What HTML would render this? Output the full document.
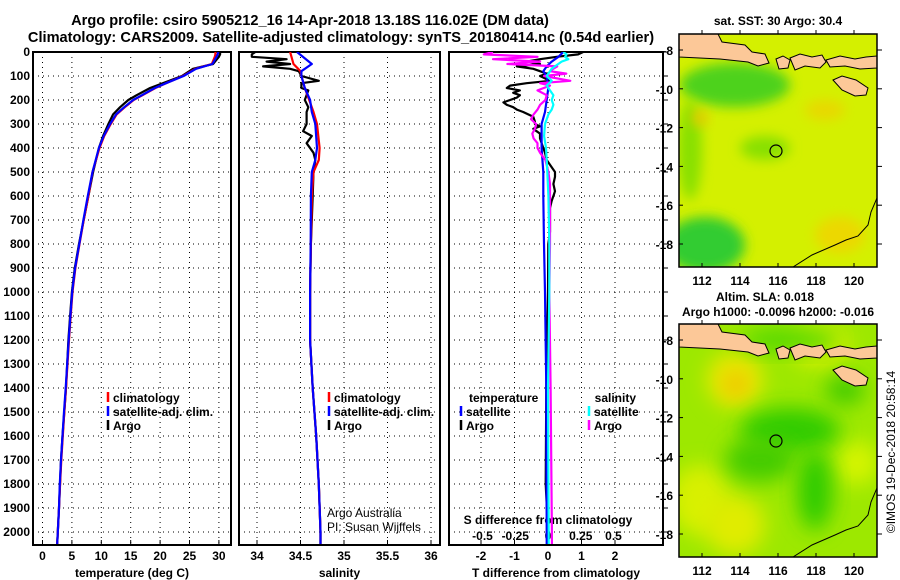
<!DOCTYPE html>
<html><head><meta charset="utf-8"><style>
body{margin:0;background:#fff;}
svg{display:block;font-family:"Liberation Sans",sans-serif;}
.b{font-weight:bold;font-size:12px;}
.n{font-weight:normal;font-size:12px;}
.t{font-weight:bold;font-size:14.6px;}
</style></head><body>
<svg id="c" width="900" height="580" viewBox="0 0 900 580">
<defs>
<clipPath id="cp1"><rect x="33" y="52" width="198" height="493"/></clipPath>
<clipPath id="cp2"><rect x="239" y="52" width="201" height="493"/></clipPath>
<clipPath id="cp3"><rect x="449" y="52" width="214" height="493"/></clipPath>
<clipPath id="cm1"><rect x="679" y="34" width="198" height="233"/></clipPath>
<clipPath id="cm2"><rect x="679" y="324" width="198" height="233"/></clipPath>
<filter id="bl" x="-50%" y="-50%" width="200%" height="200%"><feGaussianBlur stdDeviation="10"/></filter>
<filter id="bl2" x="-50%" y="-50%" width="200%" height="200%"><feGaussianBlur stdDeviation="6"/></filter>
</defs>
<text x="310" y="25" text-anchor="middle" class="t">Argo profile: csiro 5905212_16 14-Apr-2018 13.18S 116.02E (DM data)</text>
<text x="341" y="42" text-anchor="middle" class="t">Climatology: CARS2009. Satellite-adjusted climatology: synTS_20180414.nc (0.54d earlier)</text>
<g id="axes"></g>
<g id="maps"></g>
</svg>
<script>
// ---- data ----
const tDepth = [0,10,20,50,70,100,130,150,180,200,230,260,300,350,400,500,600,700,800,900,1000,1100,1200,1400,1500,1600,1700,1800,1900,2000,2050];
const tArgo = [30.2,30.2,30.0,29.0,25.6,23.7,20.5,18.3,16.0,14.6,13.2,12.0,11.2,10.3,9.6,8.6,7.8,7.0,6.2,5.5,5.0,4.7,4.4,4.0,3.7,3.4,3.15,2.97,2.8,2.6,2.5];
const tClim = [29.4,29.4,29.3,28.8,26.0,23.9,21.0,19.2,17.0,15.5,14.0,12.6,11.6,10.5,9.7,8.5,7.8,7.0,6.3,5.6,5.1,4.8,4.5,4.0,3.7,3.45,3.2,3.0,2.8,2.6,2.5];
const tSat = [29.9,29.8,29.6,28.9,26.1,24.0,21.0,19.1,16.9,15.4,13.9,12.5,11.5,10.4,9.6,8.5,7.7,6.95,6.25,5.55,5.05,4.75,4.45,3.95,3.65,3.4,3.15,2.95,2.8,2.6,2.5];
const sDepth = [0,50,80,100,150,200,250,300,400,450,500,600,800,1000,1200,1400,1600,1800,2000,2050];
const sClim = [34.38,34.42,34.5,34.51,34.55,34.6,34.65,34.69,34.72,34.71,34.65,34.63,34.62,34.61,34.61,34.64,34.68,34.71,34.73,34.73];
const sSat = [34.46,34.63,34.51,34.51,34.55,34.61,34.63,34.67,34.69,34.67,34.63,34.62,34.617,34.61,34.61,34.64,34.68,34.71,34.73,34.73];
const sArgoDepth = [0,10,20,30,40,50,60,70,80,100,120,130,150,160,200,230,250,300,330,350,380,420,450,500,600,800,1000,1200,1400,1600,1800,2000,2050];
const sArgo = [33.98,33.94,33.94,34.34,34.11,34.38,34.07,34.38,34.48,34.51,34.71,34.51,34.51,34.59,34.55,34.59,34.57,34.57,34.53,34.63,34.57,34.65,34.67,34.65,34.64,34.62,34.61,34.61,34.64,34.68,34.71,34.73,34.73];
const dTArgoDepth = [0,10,20,30,40,50,60,70,80,90,100,120,130,140,150,160,170,180,190,200,210,220,230,240,250,270,290,300,310,320,330,340,360,380,400,420,450,480,500,520,550,580,600,620,650,700,750,800,1000,1400,1800,2000,2050];
const dTArgo = [1.05,0.9,0.26,-0.24,-0.64,-0.24,-0.93,-0.44,-0.24,-0.04,-0.24,0.06,-0.64,-1.13,-1.23,-0.84,-1.04,-0.84,-0.93,-1.13,-1.33,-1.23,-1.04,-0.93,-0.74,-0.44,-0.39,-0.39,-0.24,-0.44,-0.34,-0.24,-0.24,-0.19,-0.14,-0.09,-0.04,0.11,0.21,0.21,0.16,0.21,0.16,0.11,0.06,0.06,0.06,0.01,0,-0.05,-0.07,0,0];
const dTSatDepth = [0,20,40,60,80,100,150,200,250,300,400,500,600,800,1000,1400,2000,2050];
const dTSat = [0.46,0.31,0.11,-0.04,-0.14,-0.04,0.01,-0.04,-0.09,-0.19,-0.19,-0.14,-0.14,-0.12,-0.09,-0.05,-0.04,-0.04];
const dSSatDepth = [0,10,20,30,40,50,60,70,80,100,120,140,160,180,200,220,240,260,280,300,350,400,450,500,600,800,1000,1400,2000,2050];
const dSSat = [0.117,0.142,0.13,0.155,0.104,0.079,0.053,0.028,0.015,-0.01,0.028,-0.01,0.015,0.041,0.028,0.041,0.028,0.003,-0.01,-0.023,-0.03,-0.015,-0.01,-0.005,0.003,0.01,0.01,0.0,0.005,0.005];
const dSArgoDepth = [0,10,20,30,40,50,60,70,80,90,100,120,130,140,160,180,200,220,240,260,280,300,320,340,360,380,400,420,450,500,550,600,800,1000,1400,2000,2050];
const dSArgo = [-0.42,-0.49,-0.08,-0.42,-0.06,-0.31,0.07,0.04,0.015,0.14,-0.03,0.17,-0.06,0.015,-0.08,-0.01,-0.02,-0.06,-0.08,-0.11,-0.13,-0.09,-0.1,-0.12,-0.11,-0.08,-0.08,-0.06,-0.02,0.003,0.015,0.015,0.015,0.01,0.02,0.03,0.03];
const depthTicks = [0,100,200,300,400,500,600,700,800,900,1000,1100,1200,1300,1400,1500,1600,1700,1800,1900,2000];
const tTicks = [0,5,10,15,20,25,30];
const sTicks = [34,34.5,35,35.5,36];
const sTickLabels = ["34","34.5","35","35.5","36"];
const dTTicks = [-2,-1,0,1,2];
const dSTicks = [-0.5,-0.25,0,0.25,0.5];
const dSTickLabels = ["-0.5","-0.25","0","0.25","0.5"];
const latTicks = [-8,-10,-12,-14,-16,-18];
const lonTicks = [112,114,116,118,120];

// ---- scales ----
const yD = d => 52 + 0.24*d;
const xT = t => 42.5 + 5.88*t;
const xS = s => 257 + 87*(s-34);
const xDT = v => 548 + 33.5*v;
const xDS = v => 548 + 131*v;
const latY = (lat, off) => off + 50 + (-8 - lat)*19.4;
const lonX = lon => 702 + (lon-112)*19;

const NS = "http://www.w3.org/2000/svg";
const root = document.getElementById('axes');
function mk(tag, attrs, parent){
  const e = document.createElementNS(NS, tag);
  for (const k in attrs) e.setAttribute(k, attrs[k]);
  (parent||root).appendChild(e);
  return e;
}
function txt(x,y,s,anchor,cls,parent){
  const e = mk('text',{x:x,y:y,'text-anchor':anchor||'middle','class':cls||'b'},parent);
  e.textContent = s;
  return e;
}

const panels = [
  {x:33,w:198,clip:'cp1',ticks:tTicks,labels:tTicks.map(String),sx:xT,title:'temperature (deg C)',name:'temperature-panel'},
  {x:239,w:201,clip:'cp2',ticks:sTicks,labels:sTickLabels,sx:xS,title:'salinity',name:'salinity-panel'},
  {x:449,w:214,clip:'cp3',ticks:dTTicks,labels:dTTicks.map(String),sx:xDT,title:'T difference from climatology',name:'difference-panel'}
];
panels.forEach((p,i)=>{
  const g = mk('g',{});
  
  
  depthTicks.forEach(d=>{
    const l = mk('line',{x1:p.x,x2:p.x+p.w,y1:yD(d),y2:yD(d),stroke:'#000','stroke-width':1,'stroke-dasharray':'1,4'},g);
    
    
  });
  p.ticks.forEach((t,j)=>{
    const x = p.sx(t);
    const l = mk('line',{x1:x,x2:x,y1:52,y2:545,stroke:'#000','stroke-width':1,'stroke-dasharray':'1,4'},g);
    
    
    mk('line',{x1:x,x2:x,y1:545,y2:540,stroke:'#000'},g);
    const lb = txt(x, 560, p.labels[j], 'middle', 'b', g);
    
    
  });
  const fr = mk('rect',{x:p.x,y:52,width:p.w,height:493,fill:'none',stroke:'#000','stroke-width':2},g);
  
  
  const at = txt(p.x+p.w/2, 577, p.title, 'middle', 'b', g);
  
  
});
depthTicks.forEach(d=>{
  const lb = txt(30, yD(d)+4, String(d), 'end', 'b');
  
  
  mk('line',{x1:663,x2:668,y1:yD(d),y2:yD(d),stroke:'#000'});
});
dSTicks.forEach((v,j)=>{
  const lb = txt(xDS(v), 540, dSTickLabels[j], 'middle', 'b');
  
  
});
const sdt = txt(548, 524, 'S difference from climatology', 'middle', 'b');



function series(depths, vals, sx, color, clip, name){
  const pts = depths.map((d,i)=> sx(vals[i]).toFixed(1)+','+yD(d).toFixed(1)).join(' ');
  const pl = mk('polyline',{points:pts,fill:'none',stroke:color,'stroke-width':2.2,'clip-path':'url(#'+clip+')','stroke-linejoin':'round'});
  
  
}
series(tDepth,tArgo,xT,'#000','cp1','temperature-argo-line');
series(tDepth,tClim,xT,'#f00','cp1','temperature-climatology-line');
series(tDepth,tSat,xT,'#00f','cp1','temperature-satellite-line');
series(sArgoDepth,sArgo,xS,'#000','cp2','salinity-argo-line');
series(sDepth,sClim,xS,'#f00','cp2','salinity-climatology-line');
series(sDepth,sSat,xS,'#00f','cp2','salinity-satellite-line');
series(dTArgoDepth,dTArgo,xDT,'#000','cp3','t-diff-argo-line');
series(dTSatDepth,dTSat,xDT,'#00f','cp3','t-diff-satellite-line');
series(dSArgoDepth,dSArgo,xDS,'#f0f','cp3','s-diff-argo-line');
series(dSSatDepth,dSSat,xDS,'#0ff','cp3','s-diff-satellite-line');

function legendEntry(x,y,color,label){
  const g = mk('g',{});
  
  
  mk('line',{x1:x,x2:x,y1:y-10,y2:y,stroke:color,'stroke-width':2.5},g);
  txt(x+5,y,label,'start','b',g);
}
legendEntry(108,402,'#f00','climatology');
legendEntry(108,416,'#00f','satellite-adj. clim.');
legendEntry(108,430,'#000','Argo');
legendEntry(329,402,'#f00','climatology');
legendEntry(329,416,'#00f','satellite-adj. clim.');
legendEntry(329,430,'#000','Argo');
const lt = txt(469,402,'temperature','start','b');  
const ls = txt(636,402,'salinity','end','b');  
legendEntry(461,416,'#00f','satellite');
legendEntry(461,430,'#000','Argo');
legendEntry(589,416,'#0ff','satellite');
legendEntry(589,430,'#f0f','Argo');
const a1 = txt(327,517,'Argo Australia','start','n');  
const a2 = txt(327,531,'PI: Susan Wijffels','start','n');  

// ---- maps ----
const maps = document.getElementById('maps');
function islands(off, g){
  const c = '#fcc898';
  const poly = (pts,name)=>{ const p = mk('polygon',{points:pts.map(q=>q[0]+','+(q[1]+off)).join(' '),fill:c,stroke:'#000','stroke-width':1},g);   };
  poly([[679,34],[718,34],[722,42],[745,45],[752,52],[765,54],[769,63],[758,66],[748,62],[720,59],[679,57]],'java-bali-land');
  poly([[776,59],[783,56],[790,60],[788,68],[779,69]],'lombok-land');
  poly([[790,58],[800,54],[812,57],[822,55],[826,62],[820,68],[805,66],[795,70]],'sumbawa-land');
  poly([[826,60],[840,56],[855,59],[866,57],[877,56],[877,68],[860,69],[845,66],[830,67]],'flores-land');
  poly([[833,80],[842,76],[856,80],[868,88],[866,95],[855,96],[842,90]],'sumba-land');
  const cl = mk('polyline',{points:[[877,198],[871,212],[868,225],[858,236],[846,240],[835,245],[812,255],[793,267]].map(q=>q[0]+','+(q[1]+off)).join(' '),fill:'none',stroke:'#000','stroke-width':1},g);
   
  const ci = mk('circle',{cx:776,cy:151+off,r:6,fill:'none',stroke:'#000','stroke-width':1.2},g);
   
}
function mapAxes(off, name){
  const g = mk('g',{},maps);
  
  
  const inner = mk('g',{'clip-path':'url(#'+(off?'cm2':'cm1')+')'},g);
  return {g,inner};
}
let m1 = mapAxes(0,'sst-map');
mk('rect',{x:679,y:34,width:198,height:233,fill:'#d4f000'},m1.inner);
[[735,85,55,22,'#4dd21a'],[690,150,12,50,'#88e000'],[705,245,40,28,'#33cc33'],[765,148,25,12,'#88e000'],[700,118,8,8,'#e8c800'],[825,110,20,10,'#e8d800'],[840,235,25,18,'#ecd800']].forEach(e=>mk('ellipse',{cx:e[0],cy:e[1],rx:e[2],ry:e[3],fill:e[4],filter:'url(#bl2)'},m1.inner));
islands(0,m1.inner);
let m2 = mapAxes(290,'sla-map');
mk('rect',{x:679,y:324,width:198,height:233,fill:'#9de800'},m2.inner);
[[735,380,28,28,'#e8e800'],[736,384,12,12,'#f0c000'],[820,345,30,22,'#d8f000'],[700,500,30,35,'#d8f000'],[735,525,30,30,'#e0ec00'],[857,463,22,22,'#d4f400'],[790,430,50,22,'#33cc00'],[760,460,35,22,'#44cc00'],[815,490,18,40,'#33cc00'],[845,390,20,15,'#44cc00'],[790,340,50,12,'#55d800']].forEach(e=>mk('ellipse',{cx:e[0],cy:e[1],rx:e[2],ry:e[3],fill:e[4],filter:'url(#bl)'},m2.inner));
islands(290,m2.inner);
[[0,m1.g],[290,m2.g]].forEach(([off,g])=>{
  mk('rect',{x:679,y:34+off,width:198,height:233,fill:'none',stroke:'#000','stroke-width':1.5},g);
  latTicks.forEach(l=>{
    const y = latY(l,off);
    mk('line',{x1:679,x2:683,y1:y,y2:y,stroke:'#000'},g);
    mk('line',{x1:877,x2:882,y1:y,y2:y,stroke:'#000'},g);
    const t = txt(673,y+5,String(l),'end','b',g);
     
  });
  lonTicks.forEach(l=>{
    const x = lonX(l);
    mk('line',{x1:x,x2:x,y1:267+off,y2:263+off,stroke:'#000'},g);
    mk('line',{x1:x,x2:x,y1:34+off,y2:30+off,stroke:'#000'},g);
    const t = txt(x,285+off,String(l),'middle','b',g);
     
  });
});
const mt1 = txt(778,25,'sat. SST: 30 Argo: 30.4','middle','b',maps);  
const mt2 = txt(765,301,'Altim. SLA: 0.018','middle','b',maps);  
const mt3 = txt(778,316,'Argo h1000: -0.0096 h2000: -0.016','middle','b',maps);  
const cr = txt(0,0,'©IMOS 19-Dec-2018 20:58:14','middle','n',maps);
cr.setAttribute('transform','translate(895,452) rotate(-90)');


</script>
</body></html>
